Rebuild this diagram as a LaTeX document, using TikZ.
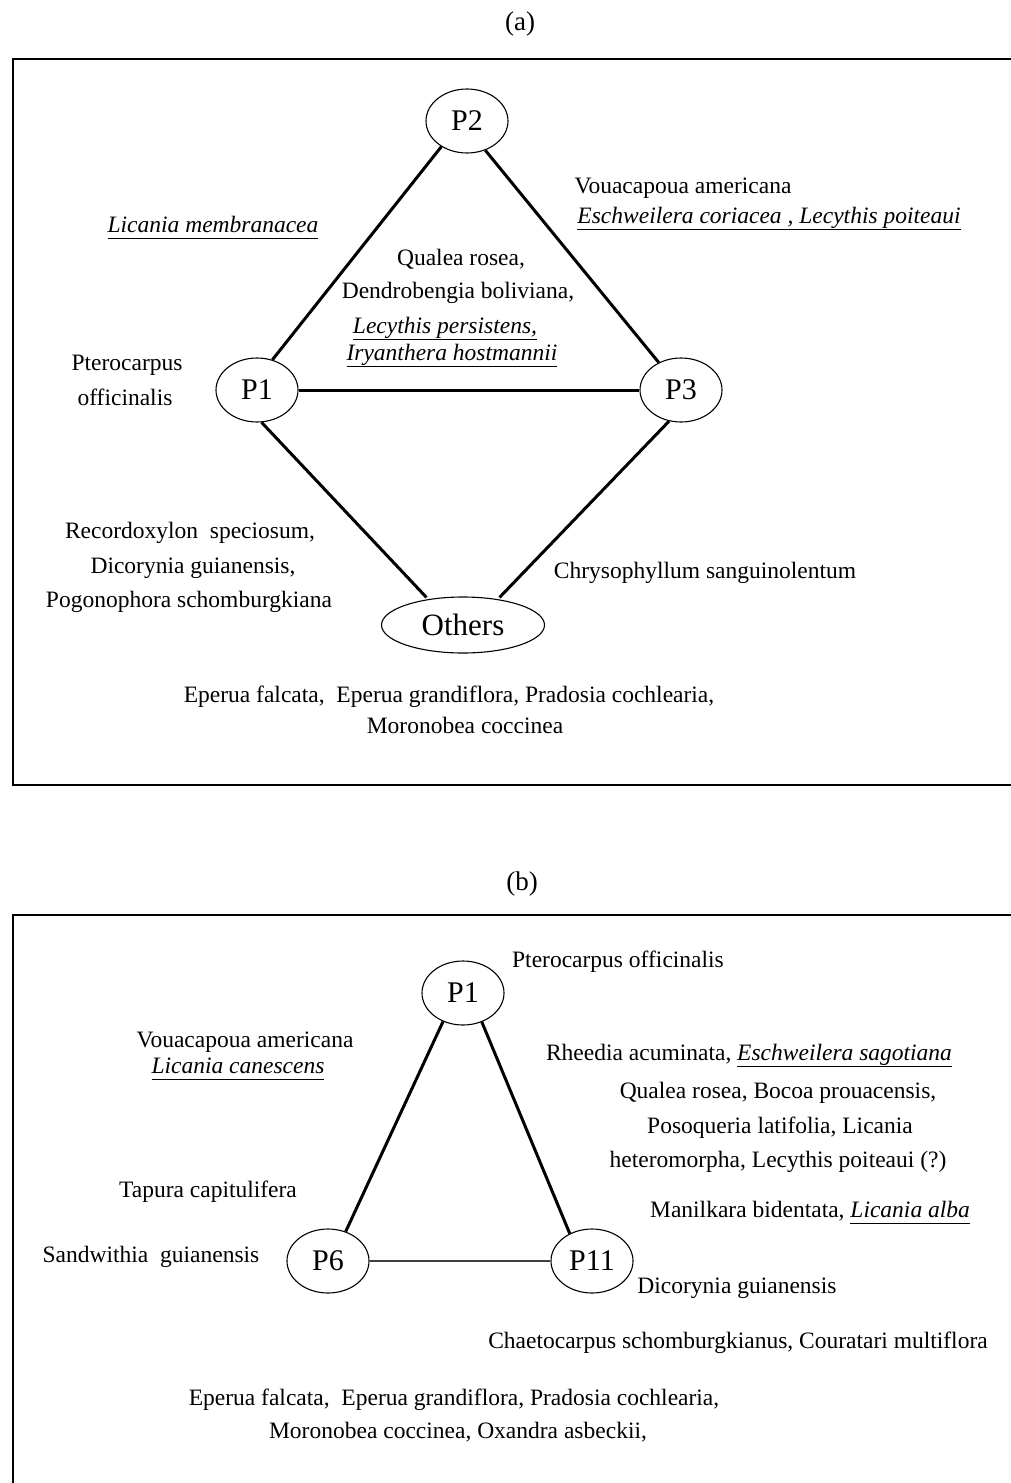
\documentclass[tikz,border=0pt]{standalone}
\usepackage{fontspec}
\setmainfont{Liberation Serif}
\usetikzlibrary{shapes.geometric}
\newcommand\ulx[1]{\setbox0\hbox{#1}\rlap{\rule[-7pt]{\wd0}{1.3pt}}\box0}
\begin{document}
\begin{tikzpicture}[x=1pt,y=-1pt,
  lbl/.style={anchor=base, inner sep=0pt, font=\fontsize{23.5}{28}\selectfont},
  pnode/.style={draw, ellipse, inner sep=0pt, line width=1.1pt, minimum width=82pt, minimum height=64pt, font=\fontsize{30}{30}\selectfont},
  thickedge/.style={line width=3pt},
  thinedge/.style={line width=1.3pt, draw=black!75},
  frame/.style={line width=1.6pt}]
\useasboundingbox (0,0) rectangle (1011,1483);
\clip (0,0) rectangle (1011,1483);
% ---------------- (a) ----------------
\node[lbl, font=\fontsize{27}{28}\selectfont] (capa) at (520,30) {(a)};
\draw[frame] (1030,59) -- (13,59) -- (13,785) -- (1030,785);
\node[pnode] (a2) at (467,121) {P2};
\node[pnode] (a1) at (257,390) {P1};
\node[pnode] (a3) at (681,390) {P3};
\node[pnode, minimum width=163pt, minimum height=56pt, font=\fontsize{31}{31}\selectfont] (ao) at (463,625) {Others};
\draw[thickedge] (a2.225) -- (a1.63);
\draw[thickedge] (a2.-58) -- (a3.129);
\draw[thickedge] (a1.east) -- (a3.west);
\draw[thickedge] (a1.-82) -- ([yshift=2pt]ao.145);
\draw[thickedge] (a3.-111) -- ([yshift=2pt]ao.35);
\node[lbl] (la1) at (213,232) {\ulx{\itshape Licania membranacea}};
\node[lbl] (la2) at (683,193) {Vouacapoua americana};
\node[lbl] (la3) at (769,223) {\ulx{\itshape Eschweilera coriacea , Lecythis poiteaui}};
\node[lbl] (la4) at (461,265) {Qualea rosea,};
\node[lbl] (la5) at (458,298) {Dendrobengia boliviana,};
\node[lbl] (la6) at (445,333) {\ulx{\itshape Lecythis persistens,}};
\node[lbl] (la7) at (452,360) {\ulx{\itshape Iryanthera hostmannii}};
\node[lbl] (la8) at (127,370) {Pterocarpus};
\node[lbl] (la9) at (125,405) {officinalis};
\node[lbl] (la10) at (190,538) {Recordoxylon\ \ speciosum,};
\node[lbl] (la11) at (193,573) {Dicorynia guianensis,};
\node[lbl] (la12) at (189,607) {Pogonophora schomburgkiana};
\node[lbl] (la13) at (705,578) {Chrysophyllum sanguinolentum};
\node[lbl] (la14) at (449,702) {Eperua falcata,\ \ Eperua grandiflora, Pradosia cochlearia,};
\node[lbl] (la15) at (465,733) {Moronobea coccinea};
% ---------------- (b) ----------------
\node[lbl, font=\fontsize{27}{28}\selectfont] (capb) at (522,890) {(b)};
\draw[frame] (1030,915) -- (13,915) -- (13,1500);
\node[pnode] (b1) at (463,993) {P1};
\node[pnode] (b6) at (328,1261) {P6};
\node[pnode] (b11) at (592,1261) {P11};
\draw[thickedge] (b1.235) -- (b6.59);
\draw[thickedge] (b1.-57) -- (b11.129);
\draw[thinedge] (b6.east) -- (b11.west);
\node[lbl] (lb1) at (618,967) {Pterocarpus officinalis};
\node[lbl] (lb2) at (245,1047) {Vouacapoua americana};
\node[lbl] (lb3) at (238,1073) {\ulx{\itshape Licania canescens}};
\node[lbl] (lb4) at (749,1060) {Rheedia acuminata, \ulx{\itshape Eschweilera sagotiana}};
\node[lbl] (lb5) at (778,1098) {Qualea rosea, Bocoa prouacensis,};
\node[lbl] (lb6) at (780,1133) {Posoqueria latifolia, Licania};
\node[lbl] (lb7) at (778,1167) {heteromorpha, Lecythis poiteaui (?)};
\node[lbl] (lb8) at (208,1197) {Tapura capitulifera};
\node[lbl] (lb9) at (810,1217) {Manilkara bidentata, \ulx{\itshape Licania alba}};
\node[lbl] (lb10) at (151,1262) {Sandwithia\ \ guianensis};
\node[lbl] (lb11) at (737,1293) {Dicorynia guianensis};
\node[lbl] (lb12) at (738,1348) {Chaetocarpus schomburgkianus, Couratari multiflora};
\node[lbl] (lb13) at (454,1405) {Eperua falcata,\ \ Eperua grandiflora, Pradosia cochlearia,};
\node[lbl] (lb14) at (458,1438) {Moronobea coccinea, Oxandra asbeckii,};
\end{tikzpicture}
\end{document}
